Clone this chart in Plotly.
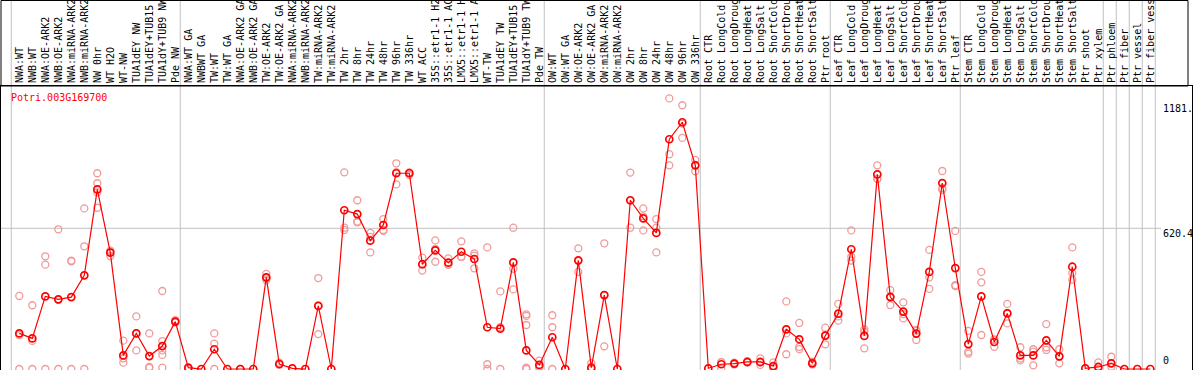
import plotly.graph_objects as go

samples = [
    "NWA:WT", "NWB:WT", "NWA:OE-ARK2", "NWB:OE-ARK2", "NWA:miRNA-ARK2", "NWB:miRNA-ARK2",
    "NW 0hr", "WT H2O", "WT-NW", "TUA1dEY NW", "TUA1dEY+TUB15 NW", "TUA1dY+TUB9 NW", "Pde NW",
    "NWA:WT GA", "NWBWT GA", "TW:WT", "TW:WT GA", "NWA:OE-ARK2 GA", "NWB:OE-ARK2 GA",
    "TW:OE-ARK2", "TW:OE-ARK2 GA", "NWA:miRNA-ARK2 GA", "NWB:miRNA-ARK2 GA", "TW:miRNA-ARK2",
    "TW:miRNA-ARK2 GA", "TW 2hr", "TW 8hr", "TW 24hr", "TW 48hr", "TW 96hr", "TW 336hr",
    "WT ACC", "35S::etr1-1 H2O", "35S::etr1-1 ACC", "LMX5::etr1-1 H2O", "LMX5::etr1-1 ACC",
    "WT-TW", "TUA1dEY TW", "TUA1dEY+TUB15 TW", "TUA1dY+TUB9 TW", "Pde TW",
    "OW:WT", "OW:WT GA", "OW:OE-ARK2", "OW:OE-ARK2 GA", "OW:miRNA-ARK2", "OW:miRNA-ARK2 GA",
    "OW 2hr", "OW 8hr", "OW 24hr", "OW 48hr", "OW 96hr", "OW 336hr",
    "Root CTR", "Root LongCold", "Root LongDrought", "Root LongHeat", "Root LongSalt",
    "Root ShortCold", "Root ShortDrought", "Root ShortHeat", "Root ShortSalt", "Ptr root",
    "Leaf CTR", "Leaf LongCold", "Leaf LongDrought", "Leaf LongHeat", "Leaf LongSalt",
    "Leaf ShortCold", "Leaf ShortDrought", "Leaf ShortHeat", "Leaf ShortSalt", "Ptr leaf",
    "Stem CTR", "Stem LongCold", "Stem LongDrought", "Stem LongHeat", "Stem LongSalt",
    "Stem ShortCold", "Stem ShortDrought", "Stem ShortHeat", "Stem ShortSalt", "Ptr shoot",
    "Ptr xylem", "Ptr phloem", "Ptr fiber", "Ptr vessel", "Ptr fiber vessel",
]

mean_expr = [
    157, 135, 320, 307, 317, 413, 792, 513, 60, 157, 57, 101, 209,
    6, 0, 87, 0, 0, 0, 404, 22, 3, 0, 278, 0, 700, 683, 566, 635, 863, 863,
    462, 523, 469, 517, 485, 184, 178, 470, 82, 18,
    140, 0, 479, 6, 326, 0, 744, 664, 600, 1013, 1088, 898,
    3, 21, 24, 31, 31, 13, 175, 131, 25, 147,
    244, 528, 146, 858, 317, 253, 156, 428, 820,
    445, 110, 320, 119, 245, 60, 60, 126, 56, 451,
    3, 9, 25, 0, 0, 0,
]

replicates = [
    [322, 149, 0], [281, 124, 0], [497, 460, 0], [616, 305, 0], [478, 475, 0], [708, 541, 0],
    [863, 819, 779, 711], [522, 498, 519], [125, 47, 28], [232, 157, 82], [157, 9, 5],
    [344, 123, 82, 62, 6], [215, 205],
    [4, 0], [], [157, 112, 0], [], [0], [], [419, 392, 401], [28, 20, 18], [], [],
    [401, 154, 279], [], [867, 623, 613], [744, 650, 647], [600, 514, 583], [661, 613, 609],
    [907, 814, 868], [867, 855, 866],
    [491, 434, 461], [567, 473, 529], [488, 460, 459], [563, 495, 494], [510, 444, 500],
    [536, 21, 0], [342, 184, 0], [623, 442, 351], [241, 234, 194, 6, 0], [37, 10, 6],
    [237, 184, 0], [], [532, 428, 477], [26, 0], [554, 100, 326], [], [866, 623, 743],
    [708, 611, 673], [661, 623, 514], [1193, 947, 898], [1163, 1019, 1082], [922, 872, 900],
    [], [3, 30, 30], [20, 28], [28, 34], [47, 18, 28], [29, 5, 5], [298, 65, 157],
    [203, 98, 88], [32, 20], [182, 109, 150],
    [287, 213, 232], [611, 495, 478], [175, 165, 91], [898, 838, 838], [348, 282, 321],
    [294, 223, 242], [172, 128, 168], [525, 404, 353], [873, 797, 790],
    [609, 370, 366], [168, 76, 68], [428, 382, 150], [98, 128, 131], [287, 201, 247],
    [96, 38, 46], [87, 16, 77], [198, 84, 96], [87, 25, 56], [536, 394, 423],
    [], [29, 0], [54, 10], [], [], [],
]

gene_name = "Potri.003G169700"
y_tick_labels = ["1181.", "620.4", "0"]
y_tick_values = [1181, 620.4, 0]
group_starts = [0, 13, 41, 53, 63, 73, 84, 85, 86, 87, 88]

# ---------------- layout geometry ----------------
W, H = 1194, 370
ML, MR, MT, MB = 1, 2, 86, 0
plot_w = W - ML - MR
plot_h = H - MT - MB
x_min, x_max = -1.408, 90.208
y_min, y_max = -4.4, 1247.8

def xpaper(v):
    return (v - x_min) / (x_max - x_min)

def ypix_to_paper(p):
    return 1 + (MT - p) / plot_h

xs = list(range(len(samples)))
rep_x, rep_y = [], []
for i, reps in enumerate(replicates):
    for v in reps:
        rep_x.append(i)
        rep_y.append(v)

fig = go.Figure()
fig.add_trace(go.Scatter(
    x=rep_x, y=rep_y, mode="markers",
    marker=dict(symbol="circle-open", size=7, color="#f09a9a", line=dict(width=1.3)),
    hoverinfo="skip", showlegend=False,
))
fig.add_trace(go.Scatter(
    x=xs, y=mean_expr, mode="lines+markers",
    line=dict(color="#ff0000", width=1.2),
    marker=dict(symbol="circle-open", size=7, color="#ff0000", line=dict(width=1.7)),
    showlegend=False,
))

shapes = []
header_top = ypix_to_paper(0.5)
for g in group_starts:
    xp = xpaper(g - 0.62)
    shapes.append(dict(type="line", xref="paper", yref="paper", x0=xp, x1=xp,
                       y0=0, y1=header_top, line=dict(color="#c0c0c0", width=1), layer="below"))
# grid line at 620.4
shapes.append(dict(type="line", xref="paper", yref="y", x0=0, x1=(1161 - ML) / plot_w,
                   y0=620.4, y1=620.4, line=dict(color="#c0c0c0", width=1), layer="below"))
# header frame
shapes.append(dict(type="rect", xref="paper", yref="paper", x0=0, x1=(1188 - ML) / plot_w,
                   y0=1, y1=header_top, line=dict(color="black", width=1)))

annotations = [dict(
    text=gene_name, xref="paper", yref="paper", x=(9 - ML) / plot_w, y=ypix_to_paper(97.5),
    xanchor="left", yanchor="middle", showarrow=False,
    font=dict(family="DejaVu Sans Mono", size=10, color="#ff0000"),
)]
anchors = ["top", "top", "bottom"]
shifts = [-1, 1, 2]
for lab, val, anc, sh in zip(y_tick_labels, y_tick_values, anchors, shifts):
    annotations.append(dict(
        text=lab, xref="paper", yref="y", x=(1162 - ML) / plot_w, y=val,
        xanchor="left", yanchor=anc, yshift=sh, showarrow=False, borderpad=0,
        font=dict(family="DejaVu Sans Mono", size=10, color="black"),
    ))

fig.update_layout(
    width=W, height=H,
    margin=dict(l=ML, r=MR, t=MT, b=MB, pad=0, autoexpand=False),
    paper_bgcolor="white", plot_bgcolor="white",
    shapes=shapes, annotations=annotations,
    xaxis=dict(
        side="top", range=[x_min, x_max], tickmode="array", tickvals=xs, ticktext=samples,
        tickangle=-90, ticks="", showgrid=False, zeroline=False, automargin=False,
        showline=True, mirror=True, linecolor="black", linewidth=1,
        tickfont=dict(family="DejaVu Sans Mono", size=10, color="black"),
    ),
    yaxis=dict(
        range=[y_min, y_max], showticklabels=False, ticks="", showgrid=False, zeroline=False,
        automargin=False,
        showline=True, mirror=True, linecolor="black", linewidth=1,
    ),
)

fig.write_html(
    "out.html",
    config={"displayModeBar": False},
    post_script="document.body.style.margin='0';document.body.style.overflow='hidden';",
)
